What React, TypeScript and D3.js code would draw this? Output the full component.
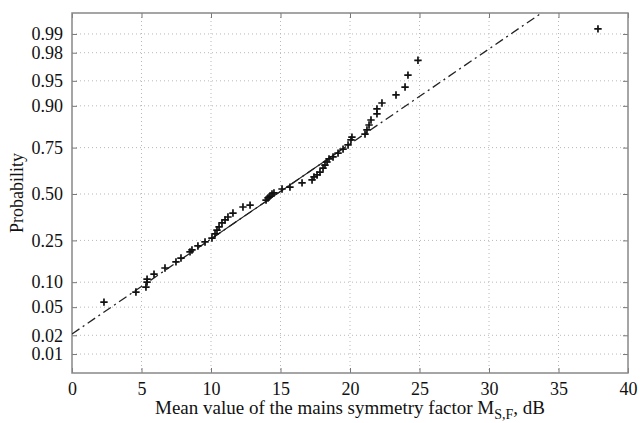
import React, { useEffect, useRef } from 'react';
import * as d3 from 'd3';

// values
const sampleValues = [
  2.3, 4.6, 5.32, 5.4, 5.4, 5.9, 6.69, 7.48, 7.84, 8.49, 8.63, 9.06, 9.57, 10.07,
  10.29, 10.43, 10.58, 10.79, 11.01, 11.22, 11.58, 12.3, 12.81, 13.96, 14.1, 14.24,
  14.39, 14.53, 15.11, 15.68, 16.55, 17.27, 17.41, 17.63, 17.84, 18.06, 18.2, 18.35,
  18.49, 18.78, 19.14, 19.5, 19.86, 20.07, 20.14, 21.08, 21.22, 21.37, 21.51, 21.94,
  21.94, 22.3, 23.31, 23.96, 24.17, 24.89, 37.84
];
const sampleProbs = [
  0.058, 0.077, 0.088, 0.1, 0.108, 0.122, 0.141, 0.162, 0.176, 0.2, 0.208, 0.225, 0.243, 0.261,
  0.281, 0.3, 0.316, 0.337, 0.353, 0.369, 0.391, 0.425, 0.436, 0.465, 0.477, 0.488,
  0.5, 0.506, 0.529, 0.54, 0.564, 0.581, 0.598, 0.609, 0.625, 0.647, 0.663, 0.679,
  0.695, 0.705, 0.724, 0.743, 0.762, 0.784, 0.796, 0.808, 0.824, 0.842, 0.859, 0.878,
  0.892, 0.907, 0.925, 0.94, 0.958, 0.974, 0.9918
];

const probTicks = [0.01, 0.02, 0.05, 0.1, 0.25, 0.5, 0.75, 0.9, 0.95, 0.98, 0.99];
const probLabels = ["0.01", "0.02", "0.05", "0.10", "0.25", "0.50", "0.75", "0.90", "0.95", "0.98", "0.99"];
const xTicks = [0, 5, 10, 15, 20, 25, 30, 35, 40];

// reference normal line and its quartile segment
const fitMean = 14.73;
const fitSd = 7.24;
const quartileLow = 10.1;
const quartileHigh = 19.3;

// inverse standard normal CDF (Acklam)
function norminv(p: number): number {
  const a = [-39.69683028665376, 220.9460984245205, -275.9285104469687, 138.357751867269, -30.66479806614716, 2.506628277459239];
  const b = [-54.47609879822406, 161.5858368580409, -155.6989798598866, 66.80131188771972, -13.28068155288572];
  const c = [-0.007784894002430293, -0.3223964580411365, -2.400758277161838, -2.549732539343734, 4.374664141464968, 2.938163982698783];
  const d = [0.007784695709041462, 0.3224671290700398, 2.445134137142996, 3.754408661907416];
  const pl = 0.02425;
  let q, r;
  if (p < pl) {
    q = Math.sqrt(-2 * Math.log(p));
    return (((((c[0] * q + c[1]) * q + c[2]) * q + c[3]) * q + c[4]) * q + c[5]) / ((((d[0] * q + d[1]) * q + d[2]) * q + d[3]) * q + 1);
  }
  if (p > 1 - pl) {
    q = Math.sqrt(-2 * Math.log(1 - p));
    return -(((((c[0] * q + c[1]) * q + c[2]) * q + c[3]) * q + c[4]) * q + c[5]) / ((((d[0] * q + d[1]) * q + d[2]) * q + d[3]) * q + 1);
  }
  q = p - 0.5;
  r = q * q;
  return (((((a[0] * r + a[1]) * r + a[2]) * r + a[3]) * r + a[4]) * r + a[5]) * q / (((((b[0] * r + b[1]) * r + b[2]) * r + b[3]) * r + b[4]) * r + 1);
}

const width = 640;
const height = 423;
const margin = { top: 13, right: 12, bottom: 50, left: 72 };
const font = "Liberation Serif, DejaVu Serif, serif";

export default function App() {
  const ref = useRef<SVGSVGElement>(null);

  useEffect(() => {
    const svg = d3.select(ref.current);
    svg.selectAll("*").remove();

    const x = d3.scaleLinear().domain([0, 40]).range([margin.left, width - margin.right]);
    const y = d3.scaleLinear().domain([-2.602, 2.631]).range([height - margin.bottom, margin.top]);
    const zTicks = probTicks.map(norminv);

    svg.append("defs").append("clipPath").attr("id", "plotclip")
      .append("rect")
      .attr("x", margin.left).attr("y", margin.top)
      .attr("width", width - margin.left - margin.right)
      .attr("height", height - margin.top - margin.bottom);

    /**
     * dotted grid
     */
    const grid = svg.append("g").attr("stroke", "#b8b8b8").attr("stroke-width", 1).attr("stroke-dasharray", "1,3");
    grid.selectAll("line.gx").data(xTicks.slice(1, -1)).enter().append("line")
      .attr("x1", d => x(d)).attr("x2", d => x(d))
      .attr("y1", margin.top).attr("y2", height - margin.bottom);
    grid.selectAll("line.gy").data(zTicks).enter().append("line")
      .attr("x1", margin.left).attr("x2", width - margin.right)
      .attr("y1", d => y(d)).attr("y2", d => y(d));

    /**
     * axes, ticks pointing inward
     */
    const styleAxis = (g: any) => {
      g.attr("font-family", font).attr("font-size", 18);
      g.select(".domain").remove();
      g.selectAll(".tick line").attr("stroke", "#777");
      g.selectAll(".tick text").attr("fill", "#111");
    };
    svg.append("g")
      .attr("transform", `translate(0,${height - margin.bottom})`)
      .call(d3.axisBottom(x).tickValues(xTicks).tickSizeInner(-5).tickSizeOuter(0).tickPadding(9).tickFormat(d3.format("d")))
      .call(styleAxis);
    svg.append("g")
      .attr("transform", `translate(0,${margin.top})`)
      .call(d3.axisTop(x).tickValues(xTicks).tickSizeInner(-5).tickSizeOuter(0).tickFormat(() => ""))
      .call(styleAxis);
    svg.append("g")
      .attr("transform", `translate(${margin.left},0)`)
      .call(d3.axisLeft(y).tickValues(zTicks).tickSizeInner(-5).tickSizeOuter(0).tickPadding(9)
        .tickFormat((d, i) => probLabels[i]))
      .call(styleAxis);
    svg.append("g")
      .attr("transform", `translate(${width - margin.right},0)`)
      .call(d3.axisRight(y).tickValues(zTicks).tickSizeInner(-5).tickSizeOuter(0).tickFormat(() => ""))
      .call(styleAxis);

    svg.append("rect")
      .attr("x", margin.left).attr("y", margin.top)
      .attr("width", width - margin.left - margin.right)
      .attr("height", height - margin.top - margin.bottom)
      .attr("fill", "none").attr("stroke", "#888").attr("stroke-width", 1.5);

    /**
     * reference line: dash-dot over the full range, solid between the quartiles
     */
    const zOf = (v: number) => (v - fitMean) / fitSd;
    const plot = svg.append("g").attr("clip-path", "url(#plotclip)");
    const fullRange = [0, 40];
    plot.append("line")
      .attr("x1", x(fullRange[0])).attr("y1", y(zOf(fullRange[0])))
      .attr("x2", x(fullRange[1])).attr("y2", y(zOf(fullRange[1])))
      .attr("stroke", "#222").attr("stroke-width", 1.3).attr("stroke-dasharray", "9,4,2,4");
    plot.append("line")
      .attr("x1", x(quartileLow)).attr("y1", y(zOf(quartileLow)))
      .attr("x2", x(quartileHigh)).attr("y2", y(zOf(quartileHigh)))
      .attr("stroke", "#222").attr("stroke-width", 1.1);

    /**
     * sample points as '+' markers
     */
    const pts = sampleValues.map((v, i) => ({ v, p: sampleProbs[i] }));
    const s = 3.7;
    plot.append("g").attr("stroke", "#111").attr("stroke-width", 1.7)
      .selectAll("path").data(pts).enter().append("path")
      .attr("d", d => {
        const cx = x(d.v), cy = y(norminv(d.p));
        return `M${cx - s},${cy}H${cx + s}M${cx},${cy - s}V${cy + s}`;
      });

    /**
     * axis labels
     */
    const xl = svg.append("text")
      .attr("x", 350).attr("y", 414)
      .attr("text-anchor", "middle")
      .attr("font-family", font).attr("font-size", 19).attr("fill", "#111");
    xl.append("tspan").text("Mean value of the mains symmetry factor M");
    xl.append("tspan").attr("dy", 5).attr("font-size", 14).text("S,F");
    xl.append("tspan").attr("dy", -5).text(", dB");

    svg.append("text")
      .attr("transform", `translate(23,${(margin.top + height - margin.bottom) / 2}) rotate(-90)`)
      .attr("text-anchor", "middle")
      .attr("font-family", font).attr("font-size", 18).attr("fill", "#111")
      .text("Probability");
  }, []);

  return (
    <svg ref={ref} width={width} height={height} fontFamily={font}
      style={{ position: "absolute", left: 0, top: 0, background: "#fff" }} />
  );
}
